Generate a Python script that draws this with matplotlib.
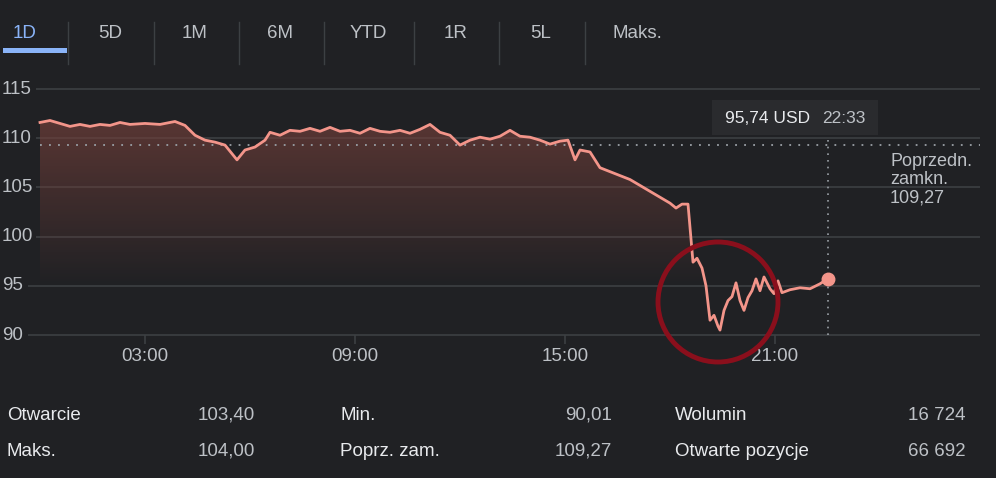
import matplotlib
matplotlib.use("Agg")
import matplotlib.pyplot as plt
import numpy as np
from matplotlib.patches import Circle, Rectangle, Polygon

# ---- data ----
px_x = [40,50,60,70,80,90,100,110,120,130,145,160,175,185,195,205,215,225,237,245,255,265,270,280,290,300,310,320,330,340,350,360,370,380,390,400,410,420,430,440,450,460,470,480,490,500,510,520,530,540,550,560,568,575,580,590,600,610,620,630,640,650,660,670,676,682,688,693,697,702,706,710,714,718,720,724,728,732,736,740,744,748,752,756,760,764,770,774,778,782,790,800,810,820,828]
prices = [111.6,111.8,111.5,111.2,111.4,111.2,111.4,111.3,111.6,111.4,111.5,111.4,111.7,111.3,110.3,109.8,109.6,109.3,107.8,108.8,109.1,109.8,110.6,110.3,110.8,110.7,111.0,110.7,111.1,110.7,110.8,110.5,111.0,110.7,110.6,110.8,110.5,110.9,111.4,110.6,110.3,109.3,109.8,110.1,109.9,110.2,110.8,110.2,110.1,109.8,109.4,109.7,109.8,107.8,108.8,108.6,107.0,106.6,106.2,105.8,105.2,104.6,104.0,103.4,102.9,103.3,103.3,97.4,97.8,96.8,95.0,91.5,92.0,90.9,90.5,92.5,93.5,93.9,95.3,93.5,92.5,93.8,94.5,95.7,94.5,95.9,94.7,94.2,95.5,94.3,94.6,94.8,94.7,95.2,95.74]
hours = [(x - 40) / 35 for x in px_x]
prev_close = 109.27
y_ticks = [115, 110, 105, 100, 95, 90]
x_ticks = [3, 9, 15, 21]
x_tick_labels = ["03:00", "09:00", "15:00", "21:00"]
tabs = ["1D", "5D", "1M", "6M", "YTD", "1R", "5L", "Maks."]
stats_left = [("Otwarcie", "103,40"), ("Maks.", "104,00")]
stats_mid = [("Min.", "90,01"), ("Poprz. zam.", "109,27")]
stats_right = [("Wolumin", "16 724"), ("Otwarte pozycje", "66 692")]

BG = "#202124"
GRID = "#3c4043"
TXT = "#bdc1c6"
WHITE = "#e8eaed"
LINE = "#f3958a"

plt.rcParams['font.family'] = ['Liberation Sans', 'DejaVu Sans']
fig = plt.figure(figsize=(9.96, 4.78), dpi=100, facecolor=BG)

ax = fig.add_axes([0, 0, 1, 1])
ax.set_facecolor(BG)
ppu = 9.84
XL = (-40 / 35, 956 / 35)
YL = (115 - 389 / ppu, 115 + 89 / ppu)
ax.axis("off")

def px2x(p): return (p - 40) / 35

for v in y_ticks:
    start = 36 if v >= 100 else 28
    ax.hlines(v, px2x(start), px2x(980), color=GRID, lw=1.2, zorder=1)
    ax.text(px2x(2), v, str(v), color=TXT, fontsize=13.5, va="center", ha="left", zorder=3)
for t, l in zip(x_ticks, x_tick_labels):
    ax.vlines(t, 90 - 0.9, 90, color=GRID, lw=1.2)
    ax.text(t, 90 - 2.2, l, color=TXT, fontsize=13.5, ha="center", va="center")

ax.hlines(prev_close, hours[0], px2x(980), color="#9aa0a6", lw=1.3, linestyles=(0, (1, 4)), zorder=2)
ax.vlines(hours[-1], 90, 110.5, color="#9aa0a6", lw=1.2, linestyles=(0, (1, 3)), zorder=2)

poly = Polygon(list(zip(hours, prices)) + [(hours[-1], 90), (hours[0], 90)], closed=True, fc="none", ec="none")
ax.add_patch(poly)
grad = np.zeros((100, 1, 4))
grad[..., 0] = 0.45; grad[..., 1] = 0.25; grad[..., 2] = 0.23
grad[:, 0, 3] = np.linspace(0.7, 0.0, 100)
im = ax.imshow(grad, extent=[hours[0], hours[-1], 95, 112], origin="upper", aspect="auto", zorder=1.5)
im.set_clip_path(poly)

ax.plot(hours, prices, color=LINE, lw=2, zorder=4)
ax.plot(hours[-1], prices[-1], "o", color=LINE, ms=9, zorder=5)
ax.set_xlim(*XL)
ax.set_ylim(*YL)

ov = fig.add_axes([0, 0, 1, 1])
ov.set_xlim(0, 996); ov.set_ylim(478, 0); ov.axis("off"); ov.patch.set_alpha(0)

ov.add_patch(Circle((718, 302), 60, fill=False, ec="#8a0f1c", lw=3.5, zorder=6))
ov.add_patch(Rectangle((712, 100), 166, 35, fc="#2a2b2e", ec="none", zorder=6))
ov.text(725, 118, "95,74 USD", color=WHITE, fontsize=12.5, va="center", zorder=7)
ov.text(822, 118, "22:33", color=TXT, fontsize=12.5, va="center", zorder=7)
ov.text(890, 180, "Poprzedn.\nzamkn.\n109,27", color=TXT, fontsize=13, va="center", linespacing=1.1, zorder=7)

centers = [25, 110, 195, 280, 368, 456, 541, 637]
for i, (c, t) in enumerate(zip(centers, tabs)):
    ov.text(c, 33, t, color="#8ab4f8" if i == 0 else TXT, fontsize=13.5, ha="center", va="center")
for s in [68, 154, 239, 324, 414, 499, 585]:
    ov.plot([s, s], [22, 64], color=GRID, lw=1)
ov.add_patch(Rectangle((3, 48), 64, 5, fc="#8ab4f8", ec="none"))

for (x0, x1), stats in zip([(7, 255), (340, 612), (675, 966)], [stats_left, stats_mid, stats_right]):
    for y, (lab, val) in zip([415, 451], stats):
        ov.text(x0, y, lab, color=WHITE, fontsize=13.5, va="center")
        ov.text(x1, y, val, color=TXT, fontsize=13.5, va="center", ha="right")

fig.savefig("out.png", dpi=100, facecolor=BG)
